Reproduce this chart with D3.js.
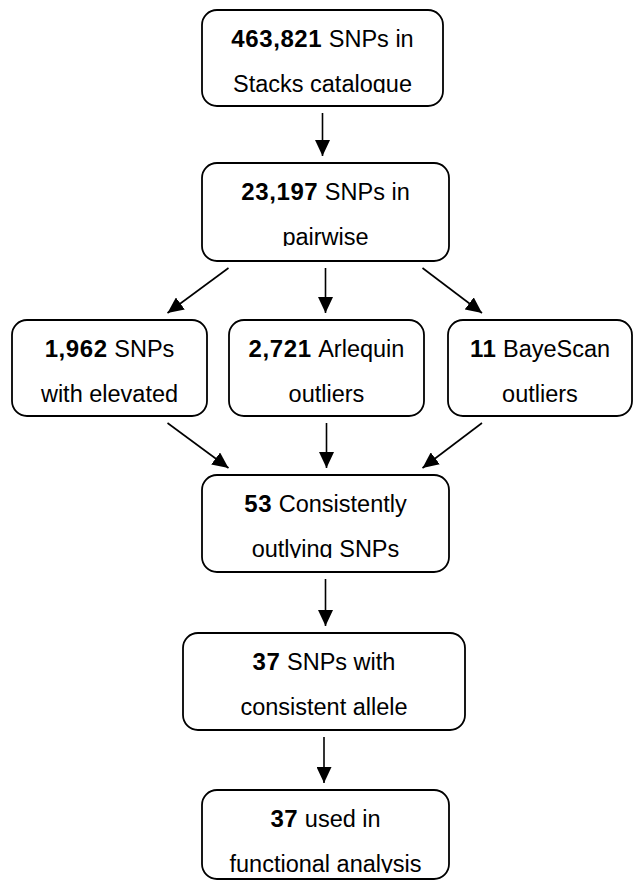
<!DOCTYPE html>
<html>
<head>
<meta charset="utf-8">
<script src="https://cdn.jsdelivr.net/npm/d3@7"></script>
<style>
  html, body { margin: 0; padding: 0; background: #fff; }
  svg { display: block; }
</style>
</head>
<body>
<script>
// ---- data ----
const nodeIds   = ["catalogue", "pairwise", "elevated", "arlequin", "bayescan", "consistent", "allele", "functional"];
const counts    = ["463,821", "23,197", "1,962", "2,721", "11", "53", "37", "37"];
const line1Rest = ["SNPs in", "SNPs in", "SNPs", "Arlequin", "BayeScan", "Consistently", "SNPs with", "used in"];
const line2     = ["Stacks catalogue", "pairwise", "with elevated", "outliers", "outliers", "outlying SNPs", "consistent allele", "functional analysis"];
const linkSource = ["catalogue", "pairwise", "pairwise", "pairwise", "elevated", "arlequin", "bayescan", "consistent", "allele"];
const linkTarget = ["pairwise", "elevated", "arlequin", "bayescan", "consistent", "consistent", "consistent", "allele", "functional"];

// ---- layout (geometry only) ----
const W = 636, H = 881;
const boxGeom = {
  catalogue:  {x0: 202, x1: 443, y0: 10,  y1: 106},
  pairwise:   {x0: 202, x1: 449, y0: 163, y1: 261},
  elevated:   {x0: 12,  x1: 207, y0: 320, y1: 416},
  arlequin:   {x0: 229, x1: 424, y0: 320, y1: 416},
  bayescan:   {x0: 448, x1: 632, y0: 320, y1: 416},
  consistent: {x0: 202, x1: 449, y0: 475, y1: 572},
  allele:     {x0: 183, x1: 465, y0: 633, y1: 730},
  functional: {x0: 202, x1: 449, y0: 790, y1: 879}
};
const radius = 15, gapStart = 7, gapEnd = 7;
const wideOffset = 97, narrowOffset = 58;

const nodes = nodeIds.map((id, i) => ({id, count: counts[i], rest: line1Rest[i], l2: line2[i], ...boxGeom[id]}));
const byId = new Map(nodes.map(n => [n.id, n]));
const links = linkSource.map((s, i) => ({source: byId.get(s), target: byId.get(linkTarget[i])}));

const svg = d3.select("body").append("svg").attr("width", W).attr("height", H);
const defs = svg.append("defs");
defs.append("marker")
  .attr("id", "arrow").attr("viewBox", "0 0 16 15")
  .attr("refX", 16).attr("refY", 7.5)
  .attr("markerWidth", 16).attr("markerHeight", 15)
  .attr("markerUnits", "userSpaceOnUse")
  .attr("orient", "auto")
  .append("path").attr("d", "M0,0 L16,7.5 L0,15 Z").attr("fill", "#000");

const cx = n => (n.x0 + n.x1) / 2;

// arrows
function linkPoints(l) {
  const s = l.source, t = l.target;
  const sc = cx(s), tc = cx(t);
  let x1, x2;
  if (Math.abs(sc - tc) < 20) { x1 = sc; x2 = sc; }
  else {
    const dir = Math.sign(tc - sc);
    const sW = s.x1 - s.x0, tW = t.x1 - t.x0;
    if (sW >= tW) { x1 = sc + dir * wideOffset; x2 = tc - dir * narrowOffset; }
    else { x1 = sc + dir * narrowOffset; x2 = tc - dir * wideOffset; }
  }
  return [[x1, s.y1 + gapStart], [x2, t.y0 - gapEnd]];
}
svg.append("g").selectAll("path").data(links).join("path")
  .attr("d", d => d3.line()(linkPoints(d)))
  .attr("stroke", "#000").attr("stroke-width", 1.6).attr("fill", "none")
  .attr("marker-end", "url(#arrow)");

// boxes
const g = svg.append("g").selectAll("g").data(nodes).join("g");
g.append("rect")
  .attr("x", d => d.x0).attr("y", d => d.y0)
  .attr("width", d => d.x1 - d.x0).attr("height", d => d.y1 - d.y0)
  .attr("rx", radius).attr("ry", radius)
  .attr("fill", "#fff").attr("stroke", "#000").attr("stroke-width", 1.8);

nodes.forEach((d, i) => {
  defs.append("clipPath").attr("id", "clip" + i)
    .append("rect").attr("x", d.x0).attr("y", d.y0).attr("width", d.x1 - d.x0).attr("height", 83);
});

const tg = g.append("g").attr("clip-path", (d, i) => `url(#clip${i})`)
  .style("font-family", "'Liberation Sans', Arial, sans-serif").attr("fill", "#000");
const t1 = tg.append("text").attr("x", cx).attr("y", d => d.y0 + 37).attr("text-anchor", "middle");
t1.append("tspan").text(d => d.count).style("font-weight", "bold").style("font-size", "24px").style("letter-spacing", "0.6px");
t1.append("tspan").text(d => "\u00a0" + d.rest).style("font-size", "23.5px");
tg.append("text").attr("x", cx).attr("y", d => d.y0 + 82).attr("text-anchor", "middle")
  .style("font-size", "23.5px").text(d => d.l2);
</script>
</body>
</html>
